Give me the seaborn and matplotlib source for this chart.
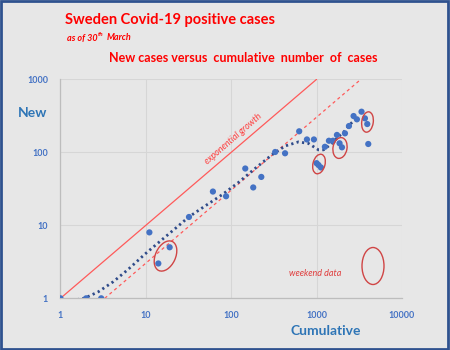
import numpy as np
import pandas as pd
import matplotlib
matplotlib.use("Agg")
import matplotlib.pyplot as plt
import seaborn as sns
from matplotlib.patches import Ellipse, Rectangle
from matplotlib.transforms import IdentityTransform
from matplotlib.ticker import FixedLocator, FixedFormatter, NullLocator

# Sweden, cumulative cases vs new cases (up to 30 March)
cumulative = [1, 2, 3, 11, 14, 19, 32, 61, 87, 146, 181, 225, 327, 427, 625, 770,
              930, 1000, 1052, 1123, 1250, 1394, 1553, 1730, 1857, 1981, 2148,
              2392, 2710, 2965, 3358, 3680, 3920, 4028]
new_cases = [1, 1, 1, 8, 3, 5, 13, 29, 25, 60, 33, 46, 101, 97, 194, 150,
             150, 71, 67, 62, 119, 144, 144, 173, 133, 117, 182,
             229, 314, 283, 360, 292, 244, 130]

# trend line, values
trend_x = [1, 1.35, 1.94, 2.78, 4.16, 6.23, 9.8, 15.3, 24, 31.5, 49.4, 77.6, 121,
           190, 298, 427, 615, 805, 1052, 1206, 1505, 1800, 2155, 2475, 2820, 3200]
trend_y = [0.98, 0.93, 1.01, 1.23, 1.69, 2.5, 4.05, 6.3, 9.8, 12.9, 18.4, 26.1, 38.5,
           60, 92, 122, 139, 132, 108, 108, 132, 163, 198, 243, 281, 285]

growth_x = [1, 1000]
growth_y = [1, 1000]
growth_lag_x = [3.3, 3300]
growth_lag_y = [1, 1000]

tick_vals_x = [1, 10, 100, 1000, 10000]
tick_vals_y = [1, 10, 100, 1000]

df = pd.DataFrame({"Cumulative": cumulative, "New": new_cases})
trend = pd.DataFrame({"x": trend_x, "y": trend_y})

sns.set_theme(style="white")
plt.rcParams["font.family"] = ["Lato", "DejaVu Sans"]

bg = "#e7e7e7"
fig = plt.figure(figsize=(4.5, 3.5), dpi=100, facecolor=bg)
ax = fig.add_axes([0.1344, 0.1477, 0.7589, 0.6257], facecolor=bg)

sns.lineplot(x=growth_x, y=growth_y, ax=ax, color="#ff5a5a", lw=0.9)
sns.lineplot(x=growth_lag_x, y=growth_lag_y, ax=ax, color="#ff5a5a", lw=0.9,
             linestyle=(0, (2.5, 2.5)))
sns.lineplot(data=trend, x="x", y="y", ax=ax, color="#2f4b8a", lw=2.0,
             linestyle=(0, (0.8, 1.2)), sort=False)
sns.scatterplot(data=df, x="Cumulative", y="New", ax=ax, color="#4472c4",
                s=20, edgecolor="none", zorder=5)

ax.set_xscale("log")
ax.set_yscale("log")
ax.set_xlim(1, 10000)
ax.set_ylim(1, 1000)
ax.xaxis.set_major_locator(FixedLocator(tick_vals_x))
ax.xaxis.set_major_formatter(FixedFormatter([str(v) for v in tick_vals_x]))
ax.yaxis.set_major_locator(FixedLocator(tick_vals_y))
ax.yaxis.set_major_formatter(FixedFormatter([str(v) for v in tick_vals_y]))
ax.xaxis.set_minor_locator(NullLocator())
ax.yaxis.set_minor_locator(NullLocator())
ax.tick_params(length=0, labelsize=6.5, labelcolor="#4472c4", pad=9)
for lab in ax.get_xticklabels() + ax.get_yticklabels():
    lab.set_fontweight("bold")
ax.grid(True, color="#d6d6d6", lw=0.8)
ax.set_axisbelow(True)
ax.set_xlabel("")
ax.set_ylabel("")
for side in ["top", "right"]:
    ax.spines[side].set_visible(False)
for side in ["left", "bottom"]:
    ax.spines[side].set_color("#bdbdbd")
    ax.spines[side].set_linewidth(0.9)

# titles and labels
fig.text(65 / 450, 1 - 20 / 350, "Sweden Covid-19 positive cases", color="red",
         fontsize=10.5, fontweight="bold", ha="left", va="center")
renderer = fig.canvas.get_renderer()
t1 = fig.text(67 / 450, 1 - 38 / 350, "as of 30", color="red", fontsize=6.5,
              fontweight="bold", style="italic", ha="left", va="center")
x_end = t1.get_window_extent(renderer).x1
t2 = fig.text((x_end + 0.5) / 450, 1 - 35 / 350, "th", color="red", fontsize=4.5,
              fontweight="bold", style="italic", ha="left", va="center")
x_end = t2.get_window_extent(renderer).x1
fig.text((x_end + 2.5) / 450, 1 - 38 / 350, "March", color="red", fontsize=6.5,
         fontweight="bold", style="italic", ha="left", va="center")
fig.text(243.5 / 450, 1 - 58 / 350, "New cases versus  cumulative  number  of  cases",
         color="red", fontsize=9, fontweight="bold", ha="center", va="center")
fig.text(33 / 450, 1 - 113 / 350, "New", color="#2e75b6", fontsize=10,
         fontweight="bold", ha="center", va="center")
fig.text(326 / 450, 1 - 331 / 350, "Cumulative", color="#2e75b6", fontsize=10,
         fontweight="bold", ha="center", va="center")
fig.text(233 / 450, 1 - 139 / 350, "exponential growth", color="#ff3b3b",
         fontsize=6.5, style="italic", rotation=41, ha="center", va="center")
fig.text(315 / 450, 1 - 274 / 350, "weekend data", color="#e03c3c",
         fontsize=6.5, style="italic", ha="center", va="center")

# weekend ellipses (display pixels)
for cx, cy, w, h, ang in [(165.5, 256, 20, 32, -25), (319, 164, 12, 20, -15),
                          (340, 148, 14, 21, -10), (367.5, 122, 11.5, 20.5, -8),
                          (373, 266, 22, 37, 0)]:
    fig.patches.append(Ellipse((cx, 350 - cy), w, h, angle=ang, fill=False,
                               edgecolor="#d04545", lw=1.0,
                               transform=IdentityTransform()))

fig.patches.append(Rectangle((0.002, 0.003), 0.994, 0.994, fill=False,
                             edgecolor="#2f528f", lw=2.0,
                             transform=fig.transFigure))

fig.savefig("out.png", dpi=100, facecolor=bg)
